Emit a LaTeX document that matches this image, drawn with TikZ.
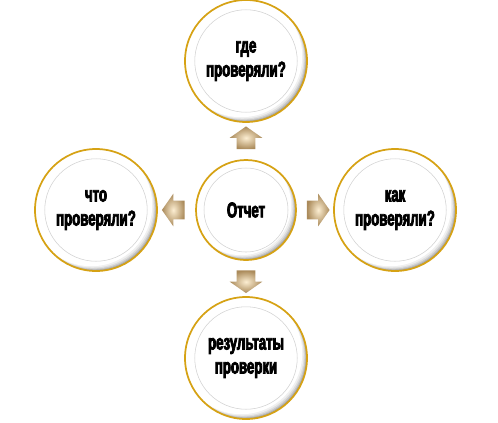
\documentclass[tikz,border=0pt]{standalone}
\usepackage{fontspec}
\newfontfamily\labelfont{Liberation Sans}[UprightFont={* Bold}, FakeStretch=0.62, FakeBold=3.5]
\usetikzlibrary{calc,shapes.arrows}

\definecolor{ringgold}{RGB}{214,162,20}
\definecolor{arrowlight}{RGB}{252,238,210}
\definecolor{arrowdark}{RGB}{170,138,90}

\tikzset{
  bubble/.style={circle, draw=ringgold, line width=1.3pt, fill=black!45,
    minimum size=2*#1, inner sep=0pt, align=center,
    font=\labelfont\fontsize{16}{18}\selectfont,
    path picture={
      % soft shadow at the lower right of the ring
      \foreach \s/\g in {0.5/32, 1.1/22, 1.8/13, 2.6/6, 3.6/0}
        \fill[black!\g] ($(path picture bounding box.center)+(-\s pt,\s pt)$) circle[radius=#1];
      \fill[white] (path picture bounding box.center) circle[radius=0.85*#1];
      \draw[black!18, line width=0.4pt] (path picture bounding box.center) circle[radius=0.84*#1];}},
  blockarrow/.style={single arrow, minimum height=17pt, inner xsep=0pt, inner ysep=6.75pt,
    single arrow head extend=5.25pt, single arrow tip angle=110,
    inner color=arrowlight, outer color=arrowdark}
}

\begin{document}
\begin{tikzpicture}[x=0.75pt,y=0.75pt,yscale=-1,xscale=1]
\path[use as bounding box] (0,0) rectangle (498,422);

% Circles
\node[bubble=37.5pt] (hub) at (246,210) {Отчет};
\node[bubble=45.75pt] (top) at (246,61) {где\\проверяли?};
\node[bubble=45.75pt] (left) at (96,210) {что\\проверяли?};
\node[bubble=45.75pt] (right) at (395,210) {как\\проверяли?};
\node[bubble=45.75pt] (bottom) at (246,358) {результаты\\проверки};

% Arrows
\node[blockarrow, rotate=90] (toTop) at ($(hub.north)!0.5!(top.south)$) {};
\node[blockarrow, rotate=180] (toLeft) at ($(hub.west)!0.5!(left.east)$) {};
\node[blockarrow] (toRight) at ($(hub.east)!0.5!(right.west)$) {};
\node[blockarrow, rotate=-90] (toBottom) at ($(hub.south)!0.5!(bottom.north)$) {};

\end{tikzpicture}
\end{document}
